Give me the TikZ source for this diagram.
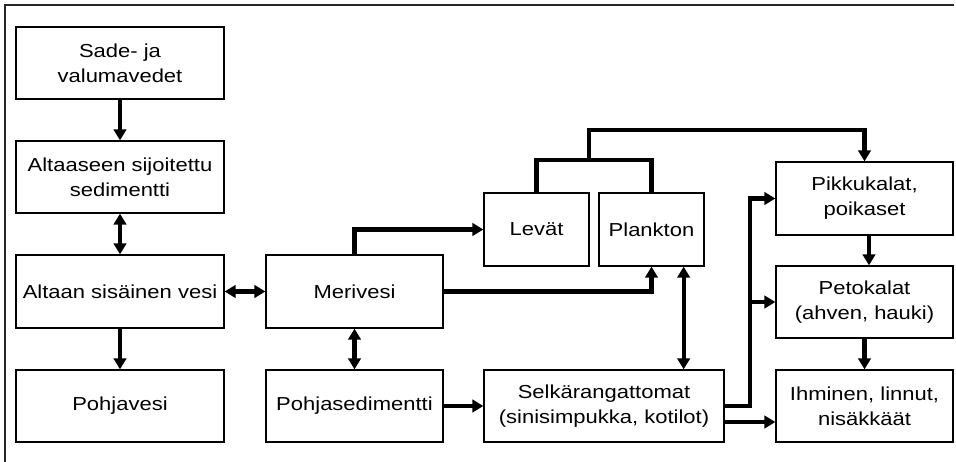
\documentclass[tikz,border=0pt]{standalone}
\usepackage{fontspec}
\setmainfont{Liberation Sans}[FakeStretch=1.17]
\usetikzlibrary{arrows.meta}
\begin{document}
\begin{tikzpicture}[x=1pt,y=-1pt,
  box/.style={draw, line width=1.3pt, rectangle, inner sep=0pt, align=center,
    font=\fontsize{18.8}{25}\selectfont},
  conn/.style={line width=4.3pt},
  arr/.style={conn, -{Triangle[length=11pt,width=12.5pt]}},
  darr/.style={conn, {Triangle[length=11pt,width=12.5pt]}-{Triangle[length=11pt,width=12.5pt]}},
  frame/.style={line width=1.8pt, draw=black!85}]
\useasboundingbox (0,0) rectangle (956,462);
\draw[frame] (5,462) -- (5,5) -- (954,5);

\node[box, minimum width=208pt, minimum height=72pt] (sade) at (120,63) {Sade- ja\\valumavedet};
\node[box, minimum width=208pt, minimum height=72pt] (alt) at (120,177) {Altaaseen sijoitettu\\sedimentti};
\node[box, minimum width=208pt, minimum height=73pt] (vesi) at (120,291.5) {Altaan sisäinen vesi};
\node[box, minimum width=208pt, minimum height=72pt] (pohja) at (120,406) {Pohjavesi};
\node[box, minimum width=177pt, minimum height=73pt] (meri) at (354.5,291.5) {Merivesi};
\node[box, minimum width=177pt, minimum height=72pt] (psed) at (354.5,406) {Pohjasedimentti};
\node[box, minimum width=105pt, minimum height=73pt] (levat) at (536.5,229.5) {Levät};
\node[box, minimum width=105pt, minimum height=73pt] (plank) at (651.5,229.5) {Plankton};
\node[box, minimum width=177pt, minimum height=73pt] (pikku) at (864.5,198.5) {Pikkukalat,\\poikaset};
\node[box, minimum width=177pt, minimum height=72pt] (peto) at (864.5,302) {Petokalat\\(ahven, hauki)};
\node[box, minimum width=177pt, minimum height=72pt] (ihm) at (864.5,406) {Ihminen, linnut,\\nisäkkäät};
\node[box, minimum width=240pt, minimum height=72pt] (selk) at (604,406) {Selkärangattomat\\(sinisimpukka, kotilot)};

\coordinate (br) at (589,160);
\coordinate (top) at (589,130);
\coordinate (j) at (750,406);

\draw[arr] (sade) -- (alt);
\draw[darr] (alt) -- (vesi);
\draw[arr] (vesi) -- (pohja);
\draw[darr] (vesi) -- (meri);
\draw[darr] (meri) -- (psed);
\draw[arr] (meri.north) |- (levat.west);
\draw[arr] (meri.east) -| (plank.south);
\draw[darr] ([xshift=-21pt]plank.south east) -- ([xshift=-21pt]plank.south east |- selk.north);
\draw[conn] (levat.north) |- (br) -| (plank.north);
\draw[arr] (br) -- (top) -| (pikku.north);
\draw[arr] ([xshift=4.5pt]pikku.south) -- ([xshift=4.5pt]pikku.south |- peto.north);
\draw[arr] (peto) -- (ihm);
\draw[arr] (psed) -- (selk);
\draw[arr] (selk.east) -- (j) |- (pikku.west);
\draw[arr] (j |- peto.west) -- (peto.west);
\draw[arr] ([yshift=-16pt]selk.east) -- ([yshift=-16pt]selk.east -| ihm.west);
\end{tikzpicture}
\end{document}
